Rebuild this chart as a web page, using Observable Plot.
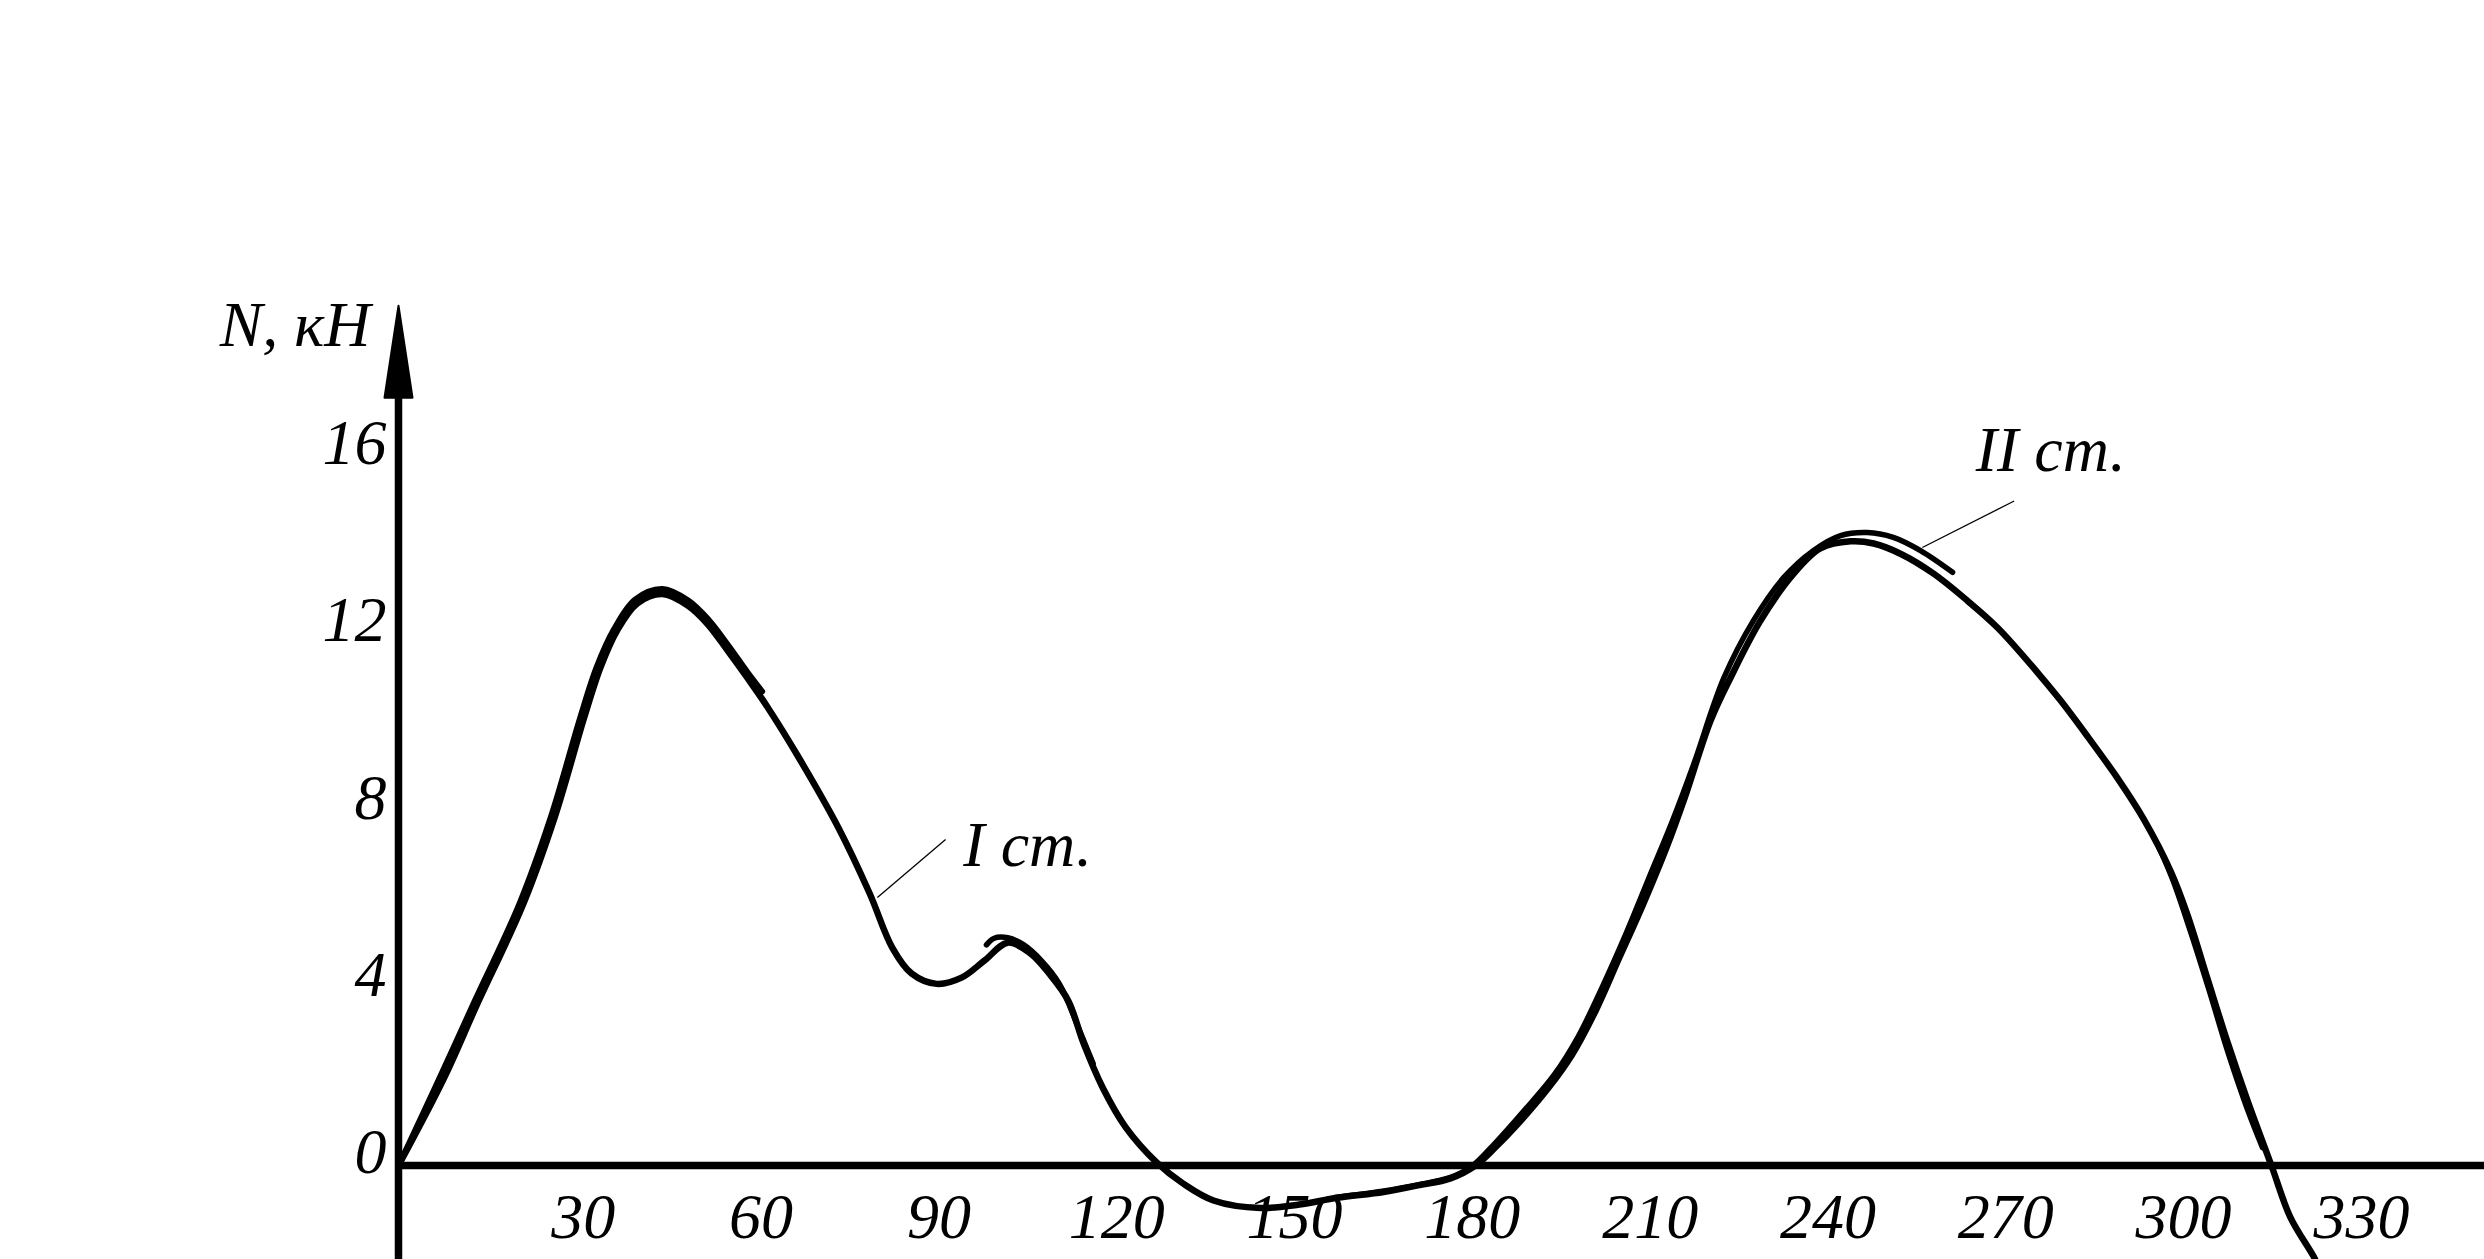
<!DOCTYPE html>
<html>
<head>
<meta charset="utf-8">
<script src="https://cdn.jsdelivr.net/npm/d3@7"></script>
<script src="https://cdn.jsdelivr.net/npm/@observablehq/plot@0.6"></script>
<style>
  html, body { margin: 0; padding: 0; background: #fff; }
  #chart svg { display: block; }
</style>
</head>
<body>
<div id="chart"></div>
<script>
// ---- data (crank angle in degrees, force N in kN) ----
const angleMain = [0, 7.6, 13.1, 21.1, 26.4, 31.3, 34.1, 36.9, 40.3, 44.5, 48.8, 52.1, 55.5, 58.9, 62.3, 67.3, 74.2, 79.5, 83.3, 86.6, 90.8, 95, 98.9, 102.8, 106.6, 109.8, 113, 115.6, 118.8, 122.7, 127.9, 132.4, 137.5, 145.4, 152, 158.4, 166.2, 172, 177.5, 181.7, 185, 188.8, 193.9, 198, 202, 206, 210, 214, 217, 221.4, 224.7, 229.8, 235.4, 239.9, 245, 248.9, 253.4, 259, 264.7, 269.8, 276.4, 280.4, 285, 290, 294.4, 299, 301.8, 305.2, 308.6, 311.9, 316, 319.2, 323.1, 324];
const forceMain = [0, 1.95, 3.59, 5.92, 7.88, 10.1, 11.25, 12.08, 12.69, 12.9, 12.64, 12.23, 11.63, 11.0, 10.34, 9.26, 7.63, 6.14, 4.92, 4.33, 4.1, 4.24, 4.63, 5.03, 4.79, 4.33, 3.72, 2.75, 1.76, 0.86, 0.07, -0.41, -0.79, -0.96, -0.88, -0.73, -0.6, -0.45, -0.29, 0, 0.4, 0.93, 1.73, 2.5, 3.5, 4.7, 5.9, 7.2, 8.3, 10.05, 11.0, 12.3, 13.36, 13.93, 14.09, 14.04, 13.81, 13.36, 12.75, 12.14, 11.15, 10.5, 9.68, 8.75, 7.83, 6.64, 5.67, 4.22, 2.78, 1.49, 0, -1.17, -2.05, -2.3];

// second traces (stage I / stage II strokes that run beside the main curve)
const angleStageIa = [0, 6.8, 12.4, 20.4, 25.7, 30.6, 33.4, 36.3, 39.9, 44.5, 48.9, 52.3, 55.8, 59.0, 61.4];
const forceStageIa = [0, 1.95, 3.59, 5.92, 7.88, 10.1, 11.25, 12.1, 12.78, 13.02, 12.76, 12.33, 11.72, 11.12, 10.7];
const angleStageIb = [99.2, 100.5, 102.8, 105.5, 108.5, 111.5, 114.6, 117.2];
const forceStageIb = [4.98, 5.13, 5.14, 4.98, 4.62, 4.1, 3.15, 2.3];
const angleStageIIa = [158, 166, 172, 177.5, 181, 185, 190, 195, 199, 203, 207, 211, 215, 218.5, 223.6, 228.6, 233.7, 238.7, 243.3, 247.8, 252.2, 256.8, 262.2];
const forceStageIIa = [-0.72, -0.58, -0.44, -0.27, -0.03, 0.5, 1.25, 2.05, 2.9, 4.0, 5.2, 6.5, 7.8, 9.05, 11.0, 12.3, 13.27, 13.88, 14.22, 14.29, 14.18, 13.88, 13.39];
const angleStageIIb = [297, 299.5, 302.3, 305.5, 308.8, 312, 314.5];
const forceStageIIb = [7.2, 6.4, 5.3, 3.95, 2.5, 1.25, 0.4];

// ticks and labels
const xTicks = [30, 60, 90, 120, 150, 180, 210, 240, 270, 300, 330];
const yTicks = [0, 4, 8, 12, 16];
const yAxisLabel = "N, кН";
const seriesLabels = [
  {text: "I ст.", x: 95.3, y: 7.22},
  {text: "II ст.", x: 266.1, y: 16.14}
];
const leaders = [
  {x1: 92.3, y1: 7.36, x2: 80.8, y2: 6.05},
  {x1: 272.6, y1: 15.0, x2: 257.1, y2: 13.95}
];
const xDomain = [0, 351.95];
const yDomain = [-2.122, 26.298];
const yAxisTop = 19.41;

// ---- build tables ----
const zip = (xs, ys) => xs.map((x, i) => ({x, y: ys[i]}));
const mainCurve = zip(angleMain, forceMain);
const traces = [
  zip(angleStageIa, forceStageIa),
  zip(angleStageIb, forceStageIb),
  zip(angleStageIIa, forceStageIIa),
  zip(angleStageIIb, forceStageIIb)
];

const font = {fontFamily: "'Liberation Serif', 'Times New Roman', serif", fontStyle: "italic", fontSize: 64, fill: "black"};

const arrowHead = {
  draw(ctx) {
    ctx.moveTo(0, 0);
    ctx.lineTo(14, 92);
    ctx.lineTo(-14, 92);
    ctx.closePath();
  }
};

const chart = Plot.plot({
  width: 2484,
  height: 1259,
  marginLeft: 398,
  marginRight: 0,
  marginTop: 0,
  marginBottom: 0,
  x: {domain: xDomain, axis: null},
  y: {domain: yDomain, axis: null},
  style: {background: "white"},
  marks: [
    // axes
    Plot.ruleY([0], {stroke: "black", strokeWidth: 7.5}),
    Plot.link([{x: 0, y1: yDomain[0], y2: yAxisTop - 1}], {x1: "x", x2: "x", y1: "y1", y2: "y2", stroke: "black", strokeWidth: 7.5}),
    Plot.dot([{x: 0, y: yAxisTop}], {x: "x", y: "y", symbol: arrowHead, r: 10, fill: "black", stroke: "black", strokeWidth: 2, strokeLinejoin: "round"}),
    // tick labels
    Plot.text(xTicks, {x: d => d, y: 0, text: d => String(d), dx: 7, dy: 52, textAnchor: "middle", ...font}),
    Plot.text(yTicks, {x: 0, y: d => d, text: d => String(d), dx: -12, dy: -13, textAnchor: "end", ...font}),
    Plot.text([yAxisLabel], {x: 0, y: yAxisTop, text: d => d, dx: -28, dy: 20, textAnchor: "end", ...font}),
    // curves
    Plot.line(mainCurve, {x: "x", y: "y", curve: "catmull-rom", stroke: "black", strokeWidth: 6.5, strokeLinecap: "round", strokeLinejoin: "round"}),
    ...traces.map(t => Plot.line(t, {x: "x", y: "y", curve: "catmull-rom", stroke: "black", strokeWidth: 5.5, strokeLinecap: "round", strokeLinejoin: "round"})),
    // series labels with leader lines
    Plot.link(leaders, {x1: "x1", y1: "y1", x2: "x2", y2: "y2", stroke: "black", strokeWidth: 1.3}),
    Plot.text(seriesLabels, {x: "x", y: "y", text: "text", textAnchor: "start", ...font})
  ]
});

document.getElementById("chart").appendChild(chart);
</script>
</body>
</html>
